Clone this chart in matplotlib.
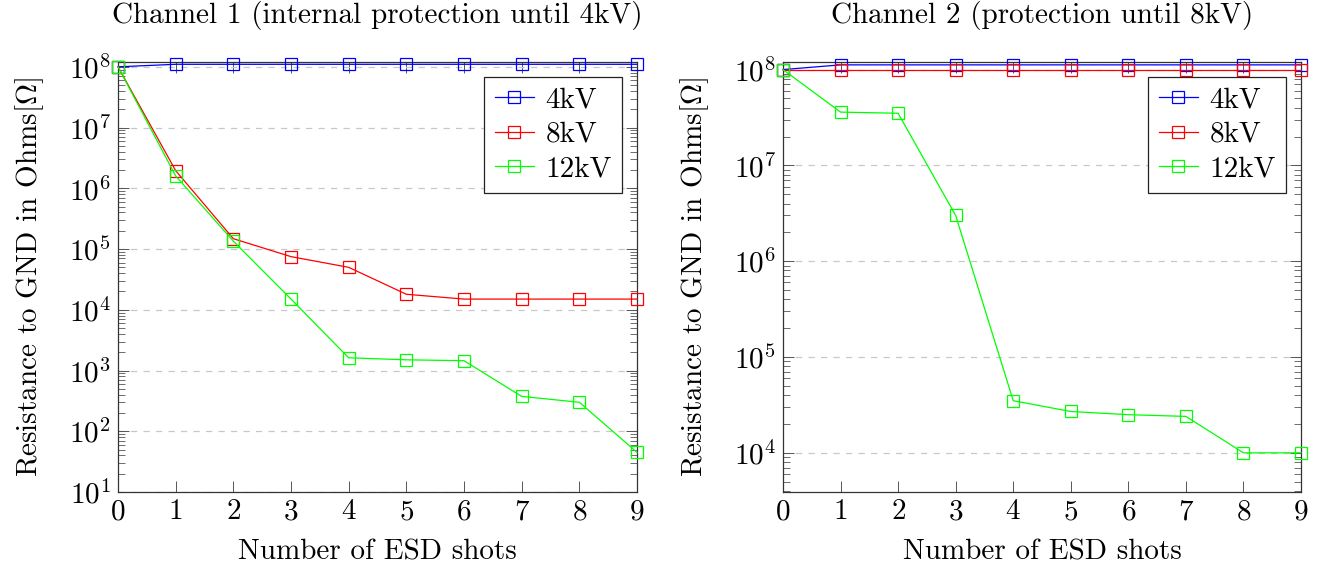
import numpy as np
import matplotlib
matplotlib.use("Agg")
import matplotlib.pyplot as plt
from matplotlib.ticker import LogLocator, NullFormatter, LogFormatterSciNotation, MultipleLocator

# data
shots = [0, 1, 2, 3, 4, 5, 6, 7, 8, 9]
series_names = ["4kV", "8kV", "12kV"]

ch1_4kv = [1.0e8, 1.1e8, 1.1e8, 1.1e8, 1.1e8, 1.1e8, 1.1e8, 1.1e8, 1.1e8, 1.1e8]
ch1_8kv = [1.0e8, 1.95e6, 1.48e5, 7.5e4, 5.0e4, 1.8e4, 1.5e4, 1.5e4, 1.5e4, 1.5e4]
ch1_12kv = [1.0e8, 1.6e6, 1.35e5, 1.5e4, 1.62e3, 1.5e3, 1.45e3, 375, 300, 45]

ch2_4kv = [1.0e8, 1.12e8, 1.12e8, 1.12e8, 1.12e8, 1.12e8, 1.12e8, 1.12e8, 1.12e8, 1.12e8]
ch2_8kv = [1.0e8, 1.0e8, 1.0e8, 1.0e8, 1.0e8, 1.0e8, 1.0e8, 1.0e8, 1.0e8, 1.0e8]
ch2_12kv = [1.0e8, 3.6e7, 3.5e7, 3.0e6, 3.5e4, 2.7e4, 2.5e4, 2.4e4, 1.0e4, 1.0e4]

titles = ["Channel 1 (internal protection until 4kV)", "Channel 2 (protection until 8kV)"]
xlabel = "Number of ESD shots"
ylabel = r"Resistance to GND in Ohms[$\Omega$]"

COLORS = ["#0000ff", "#ff0000", "#00ff00"]

plt.rcParams.update(
    {
        "font.family": "serif",
        "font.serif": ["cmr10"],
        "mathtext.fontset": "cm",
        "axes.formatter.use_mathtext": True,
        "axes.unicode_minus": False,
        "font.size": 21,
    }
)

W, H = 1327, 571
fig = plt.figure(figsize=(W / 100, H / 100), dpi=100)

# axes boxes in pixels: (left, right, ylim)
boxes = [(118, 637, (10, 1.2e8)), (783, 1301, (3.9e3, 1.2e8))]
top_px, bottom_px = 62, 492

panels = [
    (ch1_4kv, ch1_8kv, ch1_12kv),
    (ch2_4kv, ch2_8kv, ch2_12kv),
]

for (x0, x1, ylim), data, title in zip(boxes, panels, titles):
    ax = fig.add_axes([x0 / W, 1 - bottom_px / H, (x1 - x0) / W, (bottom_px - top_px) / H])
    ax.set_yscale("log")
    for vals, name, c in zip(data, series_names, COLORS):
        ax.plot(shots, vals, color=c, lw=0.9, marker="s", markersize=9,
                markerfacecolor="none", markeredgecolor=c, markeredgewidth=0.9,
                label=name, clip_on=False, zorder=3)
    ax.set_xlim(0, 9)
    ax.set_ylim(*ylim)
    ax.xaxis.set_major_locator(MultipleLocator(1))
    ax.yaxis.set_major_locator(LogLocator(base=10, numticks=20))
    ax.yaxis.set_minor_locator(LogLocator(base=10, subs=np.arange(2, 10), numticks=100))
    ax.yaxis.set_major_formatter(LogFormatterSciNotation())
    ax.yaxis.set_minor_formatter(NullFormatter())
    ax.tick_params(which="both", direction="in", top=True, right=True, color="#555555")
    ax.tick_params(which="major", length=8, width=0.7, labelsize=21, pad=5)
    ax.tick_params(which="minor", length=5, width=0.6)
    ax.grid(axis="y", which="major", color="#c8c8c8", linestyle=(0, (5, 5)), lw=0.9)
    for s in ax.spines.values():
        s.set_linewidth(0.9)
        s.set_color("#333333")
    ax.set_title(title, fontsize=21, pad=28)
    ax.set_xlabel(xlabel, fontsize=21, labelpad=10)
    ax.set_ylabel(ylabel, fontsize=21, labelpad=16)
    leg = ax.legend(loc="upper right", fontsize=21, frameon=True, fancybox=False,
                    edgecolor="#222222", framealpha=1, borderaxespad=0.5,
                    handlelength=1.35, handletextpad=0.4, labelspacing=0.28,
                    borderpad=0.35)
    leg.get_frame().set_linewidth(0.9)

fig.savefig("out.png", dpi=100)
